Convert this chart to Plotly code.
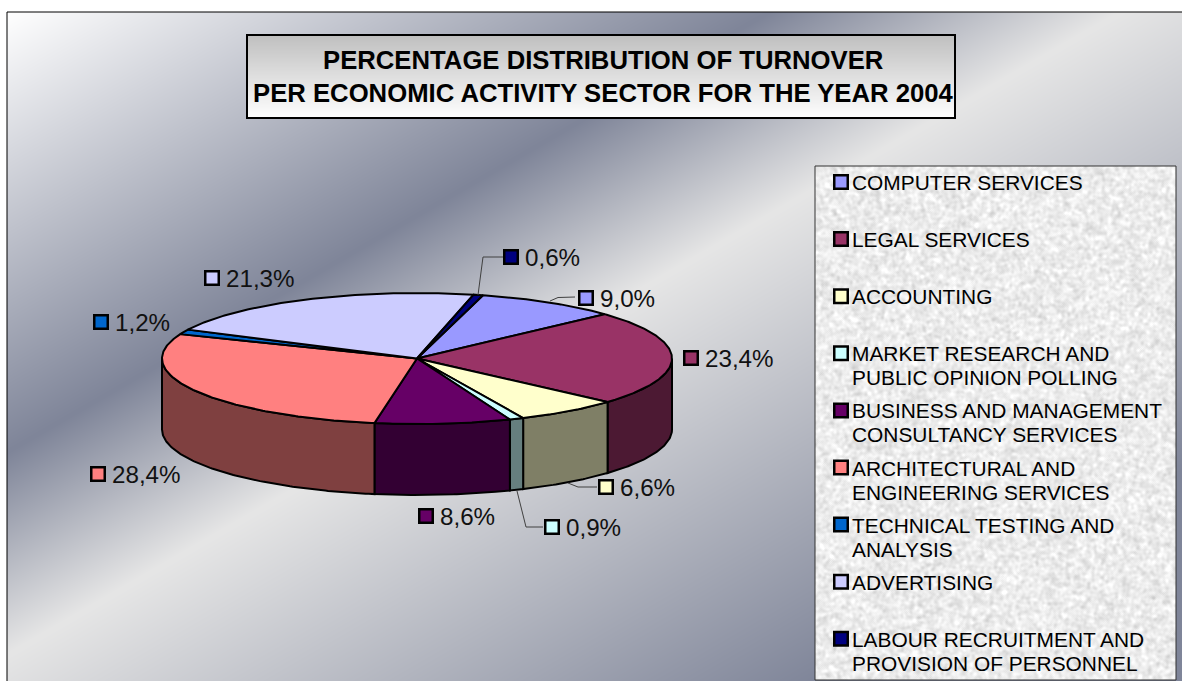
import base64, struct, zlib
import numpy as np
import plotly.graph_objects as go

# ---------- data ----------
categories = [
    "COMPUTER SERVICES", "LEGAL SERVICES", "ACCOUNTING",
    "MARKET RESEARCH AND<br>PUBLIC OPINION POLLING",
    "BUSINESS AND MANAGEMENT<br>CONSULTANCY SERVICES",
    "ARCHITECTURAL AND<br>ENGINEERING SERVICES",
    "TECHNICAL TESTING AND<br>ANALYSIS", "ADVERTISING",
    "LABOUR RECRUITMENT AND<br>PROVISION OF PERSONNEL",
]
values = [9.0, 23.4, 6.6, 0.9, 8.6, 28.4, 1.2, 21.3, 0.6]
colors = ["#9999FF", "#993366", "#FFFFCC", "#CCFFFF", "#660066",
          "#FF8080", "#0066CC", "#CCCCFF", "#000080"]
title_lines = ["PERCENTAGE DISTRIBUTION OF TURNOVER",
               "PER ECONOMIC ACTIVITY SECTOR FOR THE YEAR 2004"]

# ---------- layout constants (pixels) ----------
W, H = 1182, 681
CX, CY, RX, RY, DEPTH = 417, 358.5, 255, 65.5, 71
START_DEG = 15
label_key_xy = [(586, 298), (691, 358), (606, 487), (552, 527), (426, 516),
                (98, 474), (101, 322), (212, 278), (511, 257)]
leaders = {0: [(550, 301), (558, 297.5), (575, 297)],
           2: [(568, 483), (578, 487), (597, 487)],
           3: [(517, 491), (526, 527), (543, 527)],
           8: [(478, 295), (483, 257), (503, 257)]}


def png_uri(rgb):
    h, w, _ = rgb.shape
    raw = b"".join(b"\x00" + rgb[i].tobytes() for i in range(h))
    def chunk(t, d):
        c = struct.pack(">I", len(d)) + t + d
        return c + struct.pack(">I", zlib.crc32(t + d) & 0xffffffff)
    data = b"\x89PNG\r\n\x1a\n" + chunk(b"IHDR", struct.pack(">IIBBBBB", w, h, 8, 2, 0, 0, 0)) \
        + chunk(b"IDAT", zlib.compress(raw, 6)) + chunk(b"IEND", b"")
    return "data:image/png;base64," + base64.b64encode(data).decode()


# ---------- background picture: metallic gradient, title gradient, legend texture ----------
yy, xx = np.mgrid[0:H, 0:W]
d = 0.5 * xx + 0.866 * yy
stops = [14, 395, 570, 1000]
canvas = np.zeros((H, W, 3))
for ch, vals in enumerate(([255, 127, 230, 127], [255, 133, 230, 133], [255, 153, 230, 153])):
    canvas[:, :, ch] = np.interp(d, stops, vals)
canvas[:12, :] = 255
canvas[:, :7] = 255

tx0, tx1, ty0, ty1 = 247, 955, 35, 118
canvas[ty0:ty1, tx0:tx1] = np.interp(np.arange(ty0, ty1), [ty0, ty1], [192, 255])[:, None, None]

lx0, lx1, ly0, ly1 = 815, 1176, 166, 680
rng = np.random.default_rng(4)
tex = rng.normal(0, 1, (ly1 - ly0, lx1 - lx0))
for _ in range(4):
    tex = (tex + np.roll(tex, 1, 0) + np.roll(tex, -1, 0) + np.roll(tex, 1, 1) + np.roll(tex, -1, 1)) / 5
tex = tex / tex.std()
canvas[ly0:ly1, lx0:lx1] = np.clip(236 + 8 * tex, 205, 255)[:, :, None]
bg_uri = png_uri(canvas.astype(np.uint8))


# ---------- pie geometry from values ----------
def arc(t0, t1, drop=0.0, n=None):
    n = n or max(2, int(abs(t1 - t0) * 1.5))
    t = np.radians(np.linspace(t0, t1, n))
    return CX + RX * np.sin(t), CY - RY * np.cos(t) + drop


def darker(hex_col):
    r, g, b = (int(hex_col[i:i + 2], 16) // 2 for i in (1, 3, 5))
    return f"rgb({r},{g},{b})"


edges = START_DEG + np.concatenate([[0], np.cumsum(values)]) * 3.6
fig = go.Figure()
line = dict(color="black", width=2)

# front walls
for i, col in enumerate(colors):
    a, b = max(edges[i], 90), min(edges[i + 1], 270)
    if a >= b:
        continue
    x1, y1 = arc(a, b)
    x2, y2 = arc(b, a, DEPTH)
    fig.add_trace(go.Scatter(x=np.r_[x1, x2, x1[0]], y=np.r_[y1, y2, y1[0]], mode="lines",
                             fill="toself", fillcolor=darker(col), line=line,
                             hoverinfo="skip", showlegend=False))
# top faces
for i, col in enumerate(colors):
    x1, y1 = arc(edges[i], edges[i + 1])
    fig.add_trace(go.Scatter(x=np.r_[CX, x1, CX], y=np.r_[CY, y1, CY], mode="lines",
                             fill="toself", fillcolor=col, line=line,
                             name=categories[i].replace("<br>", " "),
                             text=f"{values[i]:.1f}%", hoverinfo="name+text", showlegend=False))
# leader lines
for pts in leaders.values():
    fig.add_trace(go.Scatter(x=[p[0] for p in pts], y=[p[1] for p in pts], mode="lines",
                             line=dict(color="#404040", width=1), hoverinfo="skip", showlegend=False))

annotations = []
font = "Liberation Sans, Arial, sans-serif"
key_marker = dict(symbol="square", size=13.5, color=colors, line=dict(color="black", width=2.5))
# data-label keys and texts
fig.add_trace(go.Scatter(x=[p[0] for p in label_key_xy], y=[p[1] for p in label_key_xy], mode="markers",
                         marker=key_marker, hoverinfo="skip", showlegend=False))
for (kx, ky), v in zip(label_key_xy, values):
    annotations.append(dict(x=kx + 12.5, y=ky, xref="x", yref="y", xanchor="left", yanchor="middle",
                            showarrow=False, text=f"{v:.1f}%".replace(".", ","), borderpad=0,
                            font=dict(family=font, size=24.2, color="#111111")))
# legend
LEG_Y0, LEG_STEP, LEG_PITCH = 182, 57.1, 24
leg_y = [LEG_Y0 + LEG_STEP * i for i in range(len(categories))]
fig.add_trace(go.Scatter(x=[841] * len(categories), y=leg_y, mode="markers",
                         marker=key_marker, hoverinfo="skip", showlegend=False))
for y, c in zip(leg_y, categories):
    for j, part in enumerate(c.split("<br>")):
        annotations.append(dict(x=851, y=y + 0.5 + LEG_PITCH * j, xref="x", yref="y", xanchor="left", yanchor="middle",
                                showarrow=False, text=part, borderpad=0,
                                font=dict(family=font, size=20.9, color="black")))
# title
for y, t in zip((60, 93), title_lines):
    annotations.append(dict(x=603, y=y, xref="x", yref="y", xanchor="center", yanchor="middle",
                            showarrow=False, text=f"<b>{t}</b>",
                            font=dict(family=font, size=25.7, color="black")))

shapes = [
    dict(type="line", x0=7, x1=7, y0=12, y1=H, line=dict(color="black", width=1), layer="above"),
    dict(type="line", x0=7, x1=W, y0=12, y1=12, line=dict(color="black", width=1), layer="above"),
    dict(type="rect", x0=tx0, x1=tx1, y0=ty0, y1=ty1, line=dict(color="black", width=2), layer="above"),
    dict(type="rect", x0=lx0, x1=lx1, y0=ly0, y1=ly1, line=dict(color="#333333", width=1), layer="above"),
]

fig.update_layout(
    width=W, height=H, autosize=False, margin=dict(l=0, r=0, t=0, b=0),
    paper_bgcolor="white", plot_bgcolor="rgba(0,0,0,0)", showlegend=False,
    xaxis=dict(range=[0, W], visible=False, fixedrange=True),
    yaxis=dict(range=[H, 0], visible=False, fixedrange=True),
    annotations=annotations, shapes=shapes,
    images=[dict(source=bg_uri, xref="x", yref="y", x=0, y=0, sizex=W, sizey=H,
                 sizing="stretch", xanchor="left", yanchor="top", layer="below")],
)
fig.write_html("out.html", config={"displayModeBar": False},
               post_script="document.body.style.margin='0';document.documentElement.style.overflow='hidden';")
